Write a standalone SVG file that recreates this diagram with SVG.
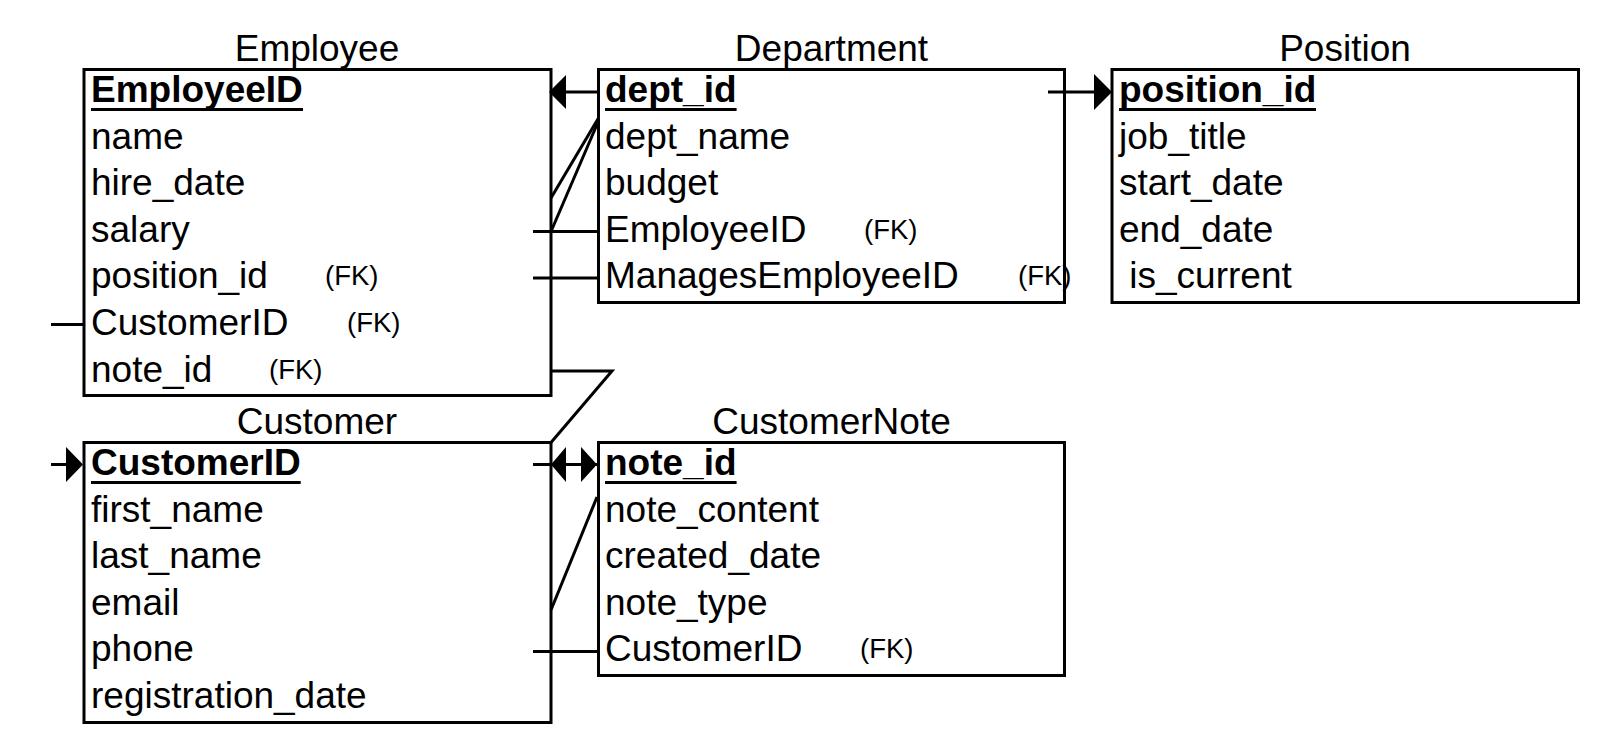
<svg xmlns="http://www.w3.org/2000/svg" width="1600" height="744" viewBox="0 0 1600 744">
<style>
text{font-family:"Liberation Sans",Arial,sans-serif;fill:#000}
.t{font-size:37px;text-anchor:middle}
.f{font-size:37px}
.pk{font-size:37px;font-weight:bold}
.fk{font-size:27.5px}
.box{fill:#fff;stroke:#000;stroke-width:3}
.ul{stroke:#000;stroke-width:3}
.c line,.c polyline{stroke:#000;stroke-width:3;fill:none}
.c polygon{fill:#000;stroke:none}
</style>
<rect width="1600" height="744" fill="#fff"/>
<g id="employee">
<text class="t" x="317" y="61">Employee</text>
<rect class="box" x="84" y="69.5" width="467" height="326"/>
<text class="pk" x="91" y="102">EmployeeID</text>
<line class="ul" x1="91" y1="109.5" x2="303" y2="109.5"/>
<text class="f" x="91" y="148.6">name</text>
<text class="f" x="91" y="195.2">hire_date</text>
<text class="f" x="91" y="241.8">salary</text>
<text class="f" x="91" y="288.4">position_id</text>
<text class="fk" x="325" y="285.4">(FK)</text>
<text class="f" x="91" y="335">CustomerID</text>
<text class="fk" x="347" y="332">(FK)</text>
<text class="f" x="91" y="381.6">note_id</text>
<text class="fk" x="269" y="378.6">(FK)</text>
</g>
<g id="department">
<text class="t" x="831.5" y="61">Department</text>
<rect class="box" x="598.5" y="69.5" width="466" height="233"/>
<text class="pk" x="605" y="102">dept_id</text>
<line class="ul" x1="605" y1="109.5" x2="736.6" y2="109.5"/>
<text class="f" x="605" y="148.6">dept_name</text>
<text class="f" x="605" y="195.2">budget</text>
<text class="f" x="605" y="241.8">EmployeeID</text>
<text class="fk" x="864" y="238.8">(FK)</text>
<text class="f" x="605" y="288.4">ManagesEmployeeID</text>
<text class="fk" x="1018" y="285.4">(FK)</text>
</g>
<g id="position">
<text class="t" x="1345" y="61">Position</text>
<rect class="box" x="1112" y="69.5" width="466.5" height="233"/>
<text class="pk" x="1119" y="102">position_id</text>
<line class="ul" x1="1119" y1="109.5" x2="1316" y2="109.5"/>
<text class="f" x="1119" y="148.6">job_title</text>
<text class="f" x="1119" y="195.2">start_date</text>
<text class="f" x="1119" y="241.8">end_date</text>
<text class="f" x="1119" y="288.4" xml:space="preserve"> is_current</text>
</g>
<g id="customer">
<text class="t" x="317" y="434">Customer</text>
<rect class="box" x="84" y="442.5" width="467" height="280"/>
<text class="pk" x="91" y="475">CustomerID</text>
<line class="ul" x1="91" y1="482.5" x2="300.7" y2="482.5"/>
<text class="f" x="91" y="521.6">first_name</text>
<text class="f" x="91" y="568.2">last_name</text>
<text class="f" x="91" y="614.8">email</text>
<text class="f" x="91" y="661.4">phone</text>
<text class="f" x="91" y="708">registration_date</text>
</g>
<g id="customernote">
<text class="t" x="831.5" y="434">CustomerNote</text>
<rect class="box" x="598.5" y="442.5" width="466" height="233"/>
<text class="pk" x="605" y="475">note_id</text>
<line class="ul" x1="605" y1="482.5" x2="736.6" y2="482.5"/>
<text class="f" x="605" y="521.6">note_content</text>
<text class="f" x="605" y="568.2">created_date</text>
<text class="f" x="605" y="614.8">note_type</text>
<text class="f" x="605" y="661.4">CustomerID</text>
<text class="fk" x="860" y="658.4">(FK)</text>
</g>
<g id="connectors" class="c">
<line x1="598.5" y1="92" x2="566" y2="92"/>
<polygon points="549,92 566,75 566,109"/>
<line x1="598.5" y1="118" x2="551" y2="198"/>
<line x1="598.5" y1="121" x2="551" y2="231.5"/>
<line x1="533" y1="231.5" x2="598.5" y2="231.5"/>
<line x1="533" y1="278" x2="598.5" y2="278"/>
<line x1="1048" y1="92" x2="1094" y2="92"/>
<polygon points="1112,92 1094,74 1094,110"/>
<line x1="51" y1="324.5" x2="84" y2="324.5"/>
<line x1="51" y1="464.5" x2="66" y2="464.5"/>
<polygon points="83,464.5 66,447 66,482"/>
<polyline points="551,371 612,371 551,442.5"/>
<line x1="533" y1="464.5" x2="598" y2="464.5"/>
<polygon points="551,464.5 566,447 566,482"/>
<polygon points="597,464.5 581,447 581,482"/>
<line x1="597" y1="497" x2="551" y2="610"/>
<line x1="533" y1="651.5" x2="598.5" y2="651.5"/>
</g>
</svg>
